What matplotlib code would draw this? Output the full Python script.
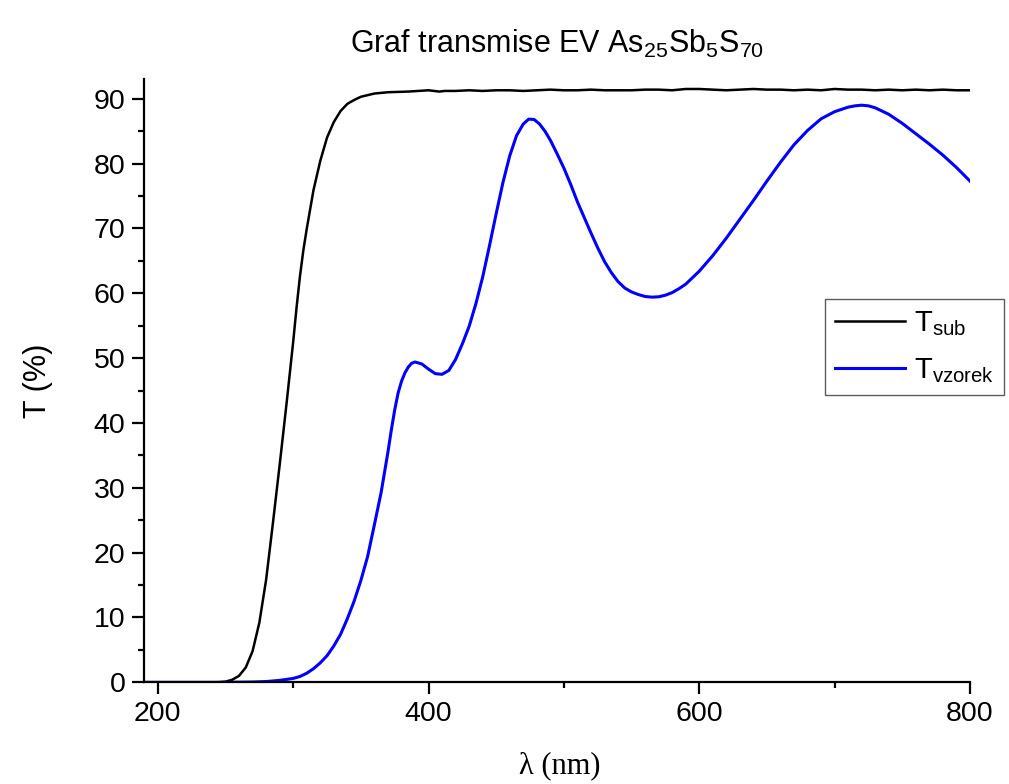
import matplotlib
matplotlib.use("Agg")
import matplotlib.pyplot as plt
from matplotlib.ticker import MultipleLocator

plt.rcParams['font.family'] = ['Liberation Sans', 'DejaVu Sans']
plt.rcParams['mathtext.fontset'] = 'custom'
plt.rcParams['mathtext.rm'] = 'Liberation Sans'
plt.rcParams['mathtext.it'] = 'Liberation Sans:italic'

# substrate transmission (nm, %)
lam_sub = [190, 200, 220, 240, 245, 250, 255, 260, 265, 270, 275, 280, 285, 290,
           295, 300, 302.5, 305, 307.5, 310, 315, 320, 325, 330, 335, 340, 345, 350, 360, 370,
           385, 400, 408, 412, 420, 430, 440, 450, 460, 470, 480, 490, 500, 510,
           520, 530, 540, 550, 560, 570, 580, 590, 600, 610, 620, 630, 640, 650,
           660, 670, 680, 690, 700, 710, 720, 730, 740, 750, 760, 770, 780, 790, 800]
t_sub = [0, 0, 0, 0, 0.02, 0.1, 0.4, 1.0, 2.3, 4.8, 9.2, 15.8, 24.5, 33.5,
         42.8, 52.5, 57.8, 62.6, 66.6, 69.9, 75.9, 80.4, 84.0, 86.4, 88.1, 89.2, 89.8, 90.3, 90.8, 91.0,
         91.1, 91.3, 91.1, 91.2, 91.2, 91.3, 91.2, 91.3, 91.3, 91.2, 91.3, 91.4, 91.3, 91.3,
         91.4, 91.3, 91.3, 91.3, 91.4, 91.4, 91.3, 91.5, 91.5, 91.4, 91.3, 91.4, 91.5, 91.4,
         91.4, 91.3, 91.4, 91.3, 91.5, 91.4, 91.4, 91.3, 91.4, 91.3, 91.4, 91.3, 91.4, 91.3, 91.3]

# sample transmission (nm, %)
lam_vz = [190, 250, 270, 280, 290, 300, 305, 310, 315, 320, 325, 330, 335, 340,
          345, 350, 355, 360, 365, 370, 372.5, 375, 377.5, 380, 382.5, 385, 387.5, 390, 395, 400, 405, 410,
          415, 420, 425, 430, 435, 440, 445, 450, 455, 460, 465, 470, 474, 478, 482,
          486, 490, 495, 500, 505, 510, 515, 520, 525, 530, 535, 540, 545, 550,
          555, 560, 565, 570, 575, 580, 585, 590, 595, 600, 610, 620, 630, 640,
          650, 660, 670, 680, 690, 700, 710, 715, 720, 725, 730, 740, 750, 760, 770, 780,
          790, 800]
t_vz = [0, 0, 0.05, 0.12, 0.3, 0.6, 0.9, 1.4, 2.1, 3.0, 4.1, 5.6, 7.4, 9.8,
        12.5, 15.7, 19.4, 24.3, 29.3, 35.5, 38.9, 42.0, 44.6, 46.4, 47.7, 48.6, 49.2, 49.4, 49.1, 48.3, 47.6, 47.5,
        48.1, 49.8, 52.2, 54.9, 58.4, 62.5, 67.3, 72.3, 77.1, 81.2, 84.3, 86.1, 86.85, 86.8, 86.1,
        85.0, 83.6, 81.5, 79.3, 76.8, 74.1, 71.7, 69.3, 67.0, 64.9, 63.2, 61.8, 60.8, 60.2,
        59.8, 59.5, 59.4, 59.45, 59.7, 60.1, 60.7, 61.4, 62.4, 63.4, 65.8, 68.5, 71.4, 74.3,
        77.3, 80.2, 82.9, 85.1, 86.9, 88.0, 88.7, 88.9, 89.0, 88.9, 88.6, 87.6, 86.2, 84.6, 83.0, 81.3,
        79.4, 77.3]

fig = plt.figure(figsize=(10.09, 7.84), dpi=100)
ax = fig.add_axes([0.143, 0.1297, 0.8183, 0.7692])

ax.plot(lam_sub, t_sub, color='black', lw=1.8, label=r'$\mathregular{T_{sub}}$')
ax.plot(lam_vz, t_vz, color='#0000ff', lw=2.2, label=r'$\mathregular{T_{vzorek}}$')

ax.set_xlim(190, 800)
ax.set_ylim(0, 93)
ax.xaxis.set_major_locator(MultipleLocator(200))
ax.xaxis.set_minor_locator(MultipleLocator(100))
ax.yaxis.set_major_locator(MultipleLocator(10))
ax.yaxis.set_minor_locator(MultipleLocator(5))

for s in ['top', 'right']:
    ax.spines[s].set_visible(False)
for s in ['left', 'bottom']:
    ax.spines[s].set_linewidth(1.6)

ax.tick_params(which='major', direction='out', length=8.5, width=1.6, labelsize=20.5, pad=5)
ax.tick_params(which='minor', direction='out', length=4.5, width=1.6)

ax.set_title(r'Graf transmise EV As$_{25}$Sb$_5$S$_{70}$', fontsize=22, pad=19)
ax.set_ylabel('T (%)', fontsize=22)
ax.yaxis.label.set_va('center')
ax.yaxis.set_label_coords(-0.129, 0.5)
ax.set_xlabel('λ (nm)', fontsize=22, family=['Liberation Serif', 'DejaVu Serif'])
ax.xaxis.label.set_va('center')
ax.xaxis.set_label_coords(0.503, -0.138)

leg = ax.legend(loc='upper left', bbox_to_anchor=(0.8176, 0.6186), bbox_transform=fig.transFigure,
                fontsize=21, frameon=True, fancybox=False, handlelength=2.4,
                borderpad=0.35, labelspacing=0.62, handletextpad=0.3, borderaxespad=0)
leg.get_frame().set_edgecolor('#333333')
leg.get_frame().set_linewidth(1.0)

fig.savefig('out.png', dpi=100)
